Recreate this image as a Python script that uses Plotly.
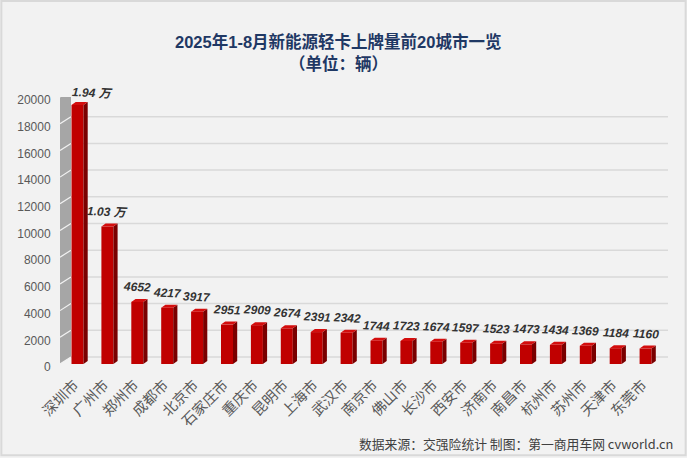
import plotly.graph_objects as go

cities = ["深圳市","广州市","郑州市","成都市","北京市","石家庄市","重庆市","昆明市","上海市","武汉市",
          "南京市","佛山市","长沙市","西安市","济南市","南昌市","杭州市","苏州市","天津市","东莞市"]
values = [19400,10300,4652,4217,3917,2951,2909,2674,2391,2342,1744,1723,1674,1597,1523,1473,1434,1369,1184,1160]
labels = ["1.94 万","1.03 万","4652","4217","3917","2951","2909","2674","2391","2342",
          "1744","1723","1674","1597","1523","1473","1434","1369","1184","1160"]
yticks = list(range(0, 20001, 2000))

W, H = 687, 458
PX_X0, PX_X1 = 60, 668        # plot area, pixels
PX_Y0, PX_Y1 = 364, 97
STEP = 29.9
XMIN = -(77.5 - PX_X0) / STEP
XMAX = XMIN + (PX_X1 - PX_X0) / STEP
UNIT = 20000 / (PX_Y0 - PX_Y1)  # value units per pixel

bw = 12 / STEP
dx, dy = 4.2 / STEP, 3 * UNIT       # bar depth
wx, wy = 11 / STEP, 7 * UNIT        # wall depth

fig = go.Figure()

sx, sy, tx, ty = [], [], [], []
for i, v in enumerate(values):
    r = i + bw / 2
    l = i - bw / 2
    sx += [r, r + dx, r + dx, r, r, None]
    sy += [0, dy, v + dy, v, 0, None]
    tx += [l, r, r + dx, l + dx, l, None]
    ty += [v, v, v + dy, v + dy, v, None]

fig.add_trace(go.Bar(x=list(range(len(values))), y=values, width=bw,
                     marker=dict(color="#c00000", line_width=0), showlegend=False))
fig.add_trace(go.Scatter(x=sx, y=sy, mode="lines", fill="toself", fillcolor="#7a0000",
                         line=dict(width=0), showlegend=False, hoverinfo="skip", cliponaxis=False))
fig.add_trace(go.Scatter(x=tx, y=ty, mode="lines", fill="toself", fillcolor="#d40d0d",
                         line=dict(width=0), showlegend=False, hoverinfo="skip", cliponaxis=False))

shapes = []
# side wall
shapes.append(dict(type="path", xref="x", yref="y", layer="below",
                   path=f"M {XMIN} 0 L {XMIN + wx} {wy} L {XMIN + wx} {20000 + wy} L {XMIN} 20000 Z",
                   fillcolor="#a6a6a6", line=dict(width=0)))
for t in yticks:
    shapes.append(dict(type="line", xref="x", yref="y", layer="below",
                       x0=XMIN + wx, x1=XMAX, y0=t + wy, y1=t + wy,
                       line=dict(color="#d9d9d9", width=1.5)))
    shapes.append(dict(type="line", xref="x", yref="y", layer="below",
                       x0=XMIN, x1=XMIN + wx, y0=t, y1=t + wy,
                       line=dict(color="#f2f2f2", width=1.2)))
# outer border
shapes.append(dict(type="rect", xref="paper", yref="paper", x0=0.002, x1=0.998, y0=0.006, y1=0.998,
                   line=dict(color="#d9d9d9", width=2), layer="below"))

annotations = []
for i, (v, lab) in enumerate(zip(values, labels)):
    annotations.append(dict(x=i, y=v, xref="x", yref="y", text=lab, showarrow=False,
                            textangle=3, xshift=15 if i == 0 else 0,
                            yshift=12 if i == 0 else 15,
                            font=dict(family="Liberation Sans, Noto Sans CJK SC", size=12,
                                      color="#333333", weight="bold", style="italic")))

TITLE_FONT = dict(family="Liberation Sans, Noto Sans CJK SC", size=16.5, color="#1f3864", weight="bold")
annotations.append(dict(x=338 / W, y=(H - 42) / H, xref="paper", yref="paper", showarrow=False,
                        yanchor="middle", text="2025年1-8月新能源轻卡上牌量前20城市一览", font=TITLE_FONT))
annotations.append(dict(x=338 / W, y=(H - 63) / H, xref="paper", yref="paper", showarrow=False,
                        yanchor="middle", text="（单位：辆）", font=TITLE_FONT))
annotations.append(dict(x=675 / W, y=(H - 443) / H, xref="paper", yref="paper", showarrow=False,
                        xanchor="right", yanchor="middle",
                        text="数据来源：交强险统计 制图：第一商用车网 cvworld.cn",
                        font=dict(family="Noto Sans CJK SC", size=12.8, color="#404040")))

fig.update_layout(
    width=W, height=H, margin=dict(l=0, r=0, t=0, b=0), template="none",
    paper_bgcolor="#f2f2f2", plot_bgcolor="rgba(0,0,0,0)",
    showlegend=False, shapes=shapes, annotations=annotations,
    xaxis=dict(domain=[PX_X0 / W, PX_X1 / W], range=[XMIN, XMAX], tickmode="array",
               tickvals=list(range(len(cities))), ticktext=cities, tickangle=-45, automargin=False,
               showgrid=False, zeroline=False, showline=False, ticklabelshift=-3,
               ticks="outside", ticklen=6, tickcolor="rgba(0,0,0,0)",
               tickfont=dict(family="Noto Sans CJK SC", size=14.5, color="#595959")),
    yaxis=dict(domain=[(H - PX_Y0) / H, (H - PX_Y1) / H], range=[0, 20000], tickmode="array",
               tickvals=yticks, ticktext=[str(t) for t in yticks], automargin=False,
               showgrid=False, zeroline=False, showline=False, ticklabelshift=3,
               ticks="outside", ticklen=6, tickcolor="rgba(0,0,0,0)",
               tickfont=dict(family="Liberation Sans", size=12, color="#595959")),
)
fig.write_html("out.html", config=dict(displayModeBar=False),
               post_script="document.body.style.margin='0';")
